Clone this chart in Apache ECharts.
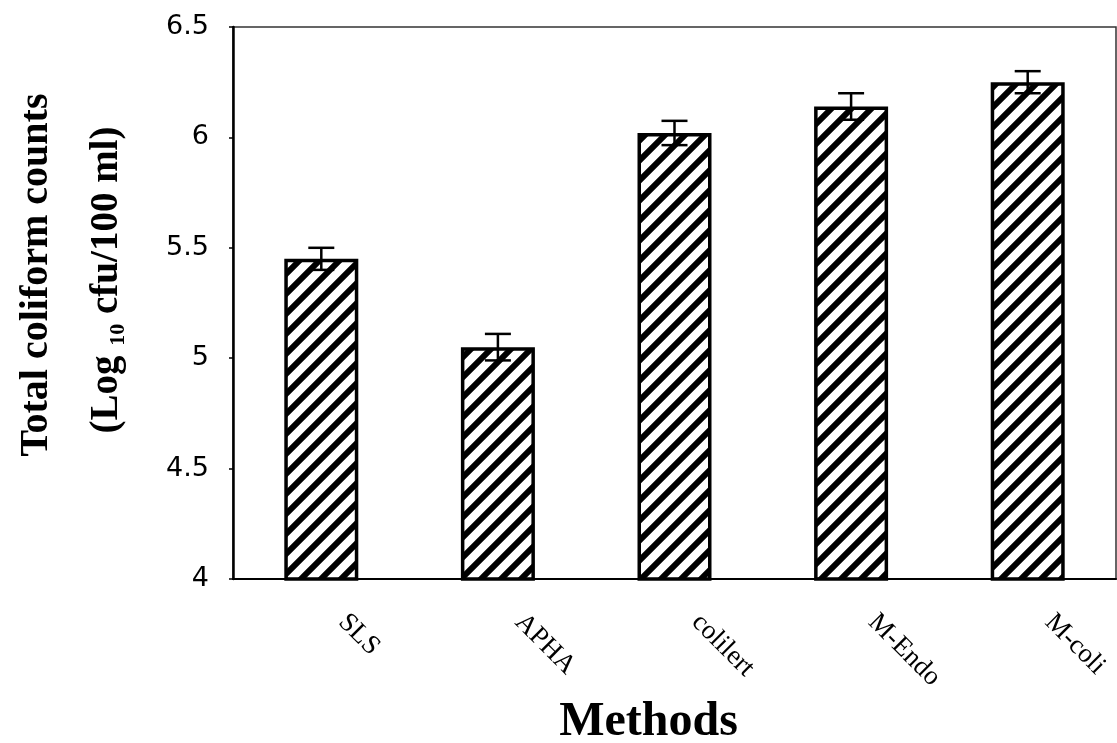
<!DOCTYPE html>
<html>
<head>
<meta charset="utf-8">
<script src="https://cdn.jsdelivr.net/npm/echarts@6/dist/echarts.min.js"></script>
<style>
  html, body { margin: 0; padding: 0; background: #fff; }
  #chart { width: 1117px; height: 743px; }
</style>
</head>
<body>
<div id="chart"></div>
<script>
// Methods compared and their mean total coliform counts (log10 cfu/100 ml)
const methods = ['SLS', 'APHA', 'colilert', 'M-Endo', 'M-coli'];
const meanCounts = [5.45, 5.05, 6.02, 6.14, 6.25];
const errors = [0.05, 0.06, 0.055, 0.06, 0.05];
const yTicks = { min: 4, max: 6.5, interval: 0.5 };

// Diagonal "/" hatch fill for the bars
function hatchPattern() {
  const s = 20;
  const c = document.createElement('canvas');
  c.width = s; c.height = s;
  const g = c.getContext('2d');
  g.fillStyle = '#fff';
  g.fillRect(0, 0, s, s);
  g.strokeStyle = '#000';
  g.lineWidth = 6;
  g.beginPath();
  g.moveTo(-s / 2, s / 2); g.lineTo(s / 2, -s / 2);
  g.moveTo(0, s); g.lineTo(s, 0);
  g.moveTo(s / 2, s * 1.5); g.lineTo(s * 1.5, s / 2);
  g.stroke();
  return c;
}

const serif = "'Liberation Serif', 'DejaVu Serif', serif";
const chart = echarts.init(document.getElementById('chart'), null, { renderer: 'canvas' });

const errorData = meanCounts.map((v, i) => [i, v - errors[i], v + errors[i]]);

chart.setOption({
  animation: false,
  backgroundColor: '#fff',
  grid: {
    left: 233, right: 1, top: 27, bottom: 164,
    containLabel: false,
    outerBoundsMode: 'none',
    show: true,
    borderColor: '#333',
    borderWidth: 1.5
  },
  xAxis: {
    type: 'category',
    data: methods,
    boundaryGap: true,
    axisLine: { show: true, lineStyle: { color: '#000', width: 2 } },
    axisTick: { show: false },
    axisLabel: {
      rotate: -45,
      margin: 18,
      padding: [0, 0, 0, 30],
      color: '#000',
      fontFamily: serif,
      fontSize: 27,
      interval: 0
    },
    name: 'Methods',
    nameLocation: 'middle',
    nameGap: 114,
    nameTextStyle: {
      fontFamily: serif,
      fontWeight: 'bold',
      fontSize: 48,
      lineHeight: 46,
      color: '#000',
      padding: [0, 52, 0, 0]
    }
  },
  yAxis: {
    type: 'value',
    min: yTicks.min,
    max: yTicks.max,
    interval: yTicks.interval,
    splitLine: { show: false },
    axisLine: { show: true, lineStyle: { color: '#000', width: 2.5 } },
    axisTick: { show: true, length: 4, lineStyle: { color: '#000', width: 1.5 } },
    axisLabel: {
      margin: 24,
      color: '#000',
      fontFamily: "'DejaVu Sans', Verdana, sans-serif",
      fontSize: 27
    }
  },
  graphic: [
    {
      type: 'text',
      x: 37, y: 275,
      rotation: Math.PI / 2,
      style: {
        text: 'Total coliform counts',
        fontFamily: serif,
        fontWeight: 'bold',
        fontSize: 40,
        fill: '#000',
        align: 'center',
        verticalAlign: 'middle'
      }
    },
    {
      type: 'text',
      x: 107, y: 280,
      rotation: Math.PI / 2,
      style: {
        text: '{m|(Log }{s|10}{m| cfu/100 ml)}',
        align: 'center',
        verticalAlign: 'middle',
        rich: {
          m: { fontFamily: serif, fontWeight: 'bold', fontSize: 39, fill: '#000', lineHeight: 44 },
          s: { fontFamily: serif, fontWeight: 'bold', fontSize: 22, fill: '#000', lineHeight: 22, verticalAlign: 'bottom' }
        }
      }
    }
  ],
  series: [
    {
      type: 'bar',
      data: meanCounts,
      barWidth: 74,
      itemStyle: {
        color: { image: hatchPattern(), repeat: 'repeat' },
        borderColor: '#000',
        borderWidth: 3.5
      },
      z: 2
    },
    {
      type: 'custom',
      data: errorData,
      z: 5,
      renderItem: function (params, api) {
        const i = api.value(0);
        const lo = api.coord([i, api.value(1)]);
        const hi = api.coord([i, api.value(2)]);
        const half = 13;
        const st = { stroke: '#000', lineWidth: 2.5 };
        return {
          type: 'group',
          children: [
            { type: 'line', shape: { x1: hi[0], y1: hi[1], x2: lo[0], y2: lo[1] }, style: st },
            { type: 'line', shape: { x1: hi[0] - half, y1: hi[1], x2: hi[0] + half, y2: hi[1] }, style: st },
            { type: 'line', shape: { x1: lo[0] - half, y1: lo[1], x2: lo[0] + half, y2: lo[1] }, style: st }
          ]
        };
      }
    }
  ]
});
</script>
</body>
</html>
